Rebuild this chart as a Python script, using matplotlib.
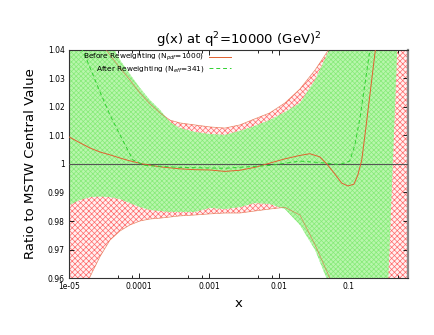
import matplotlib
matplotlib.use("Agg")
import matplotlib.pyplot as plt
from matplotlib.ticker import FixedLocator, FuncFormatter

# error bands on a shared x grid
x_band = [1.0e-5, 1.44e-5, 2.0e-5, 2.77e-5, 3.85e-5, 5.35e-5, 7.4e-5, 1.03e-4, 1.43e-4,
          2.0e-4, 2.77e-4, 3.85e-4, 6.3e-4, 1.03e-3, 1.69e-3, 2.77e-3, 4.5e-3, 7.4e-3,
          1.22e-2, 2.0e-2, 3.3e-2, 5.35e-2, 8.8e-2, 0.144, 0.235, 0.385, 0.7]
before_up = [1.065, 1.055, 1.048, 1.043, 1.0382, 1.0337, 1.0295, 1.0249, 1.0211,
             1.0179, 1.0154, 1.0144, 1.0137, 1.013, 1.0126, 1.0137, 1.0158, 1.0179,
             1.0214, 1.0263, 1.033, 1.0407, 1.05, 1.06, 1.07, 1.08, 1.09]
before_lo = [0.945, 0.953, 0.9605, 0.9675, 0.9733, 0.9765, 0.9786, 0.98, 0.9807,
             0.981, 0.9814, 0.9818, 0.9821, 0.9825, 0.9828, 0.9828, 0.9835, 0.9842,
             0.9848, 0.9821, 0.9716, 0.96, 0.95, 0.94, 0.93, 0.92, 0.91]

x_after = x_band[:24] + [0.235, 0.36, 0.5]
after_up = [1.07, 1.062, 1.055, 1.049, 1.043, 1.0365, 1.0316, 1.0267, 1.0225,
            1.019, 1.0147, 1.0126, 1.0112, 1.0105, 1.0102, 1.0116, 1.0133, 1.0154,
            1.0182, 1.0214, 1.0295, 1.0405, 1.055, 1.07, 1.08, 1.1, 1.1]
after_lo = [0.9856, 0.9874, 0.9884, 0.9886, 0.9884, 0.9877, 0.9863, 0.9849, 0.9839,
            0.9835, 0.9832, 0.9832, 0.9832, 0.9846, 0.9842, 0.9849, 0.9863, 0.986,
            0.9842, 0.9786, 0.9698, 0.957, 0.945, 0.94, 0.94, 0.955, 1.045]

# central values
x_before_c = [1e-5, 1.44e-5, 2e-5, 2.77e-5, 3.85e-5, 5.35e-5, 7.4e-5, 1.14e-4, 2e-4,
              3.85e-4, 6.3e-4, 1.03e-3, 1.69e-3, 2.77e-3, 4.5e-3, 7.4e-3, 1.22e-2,
              2e-2, 2.77e-2, 3.85e-2, 4.85e-2, 6.3e-2, 7.9e-2, 9.7e-2, 0.118, 0.134,
              0.153, 0.175, 0.2, 0.228, 0.26]
before_c = [1.0095, 1.0074, 1.0056, 1.0042, 1.0032, 1.0021, 1.0011, 1.0, 0.999,
            0.9983, 0.998, 0.9979, 0.9974, 0.9978, 0.9988, 1.0003, 1.0018, 1.003,
            1.0036, 1.0025, 1.0, 0.9965, 0.9933, 0.9923, 0.9929, 0.996, 1.0014,
            1.0126, 1.0242, 1.0358, 1.047]
x_after_c = [1.22e-5, 1.75e-5, 2.77e-5, 3.85e-5, 5.35e-5, 8.2e-5, 1.22e-4, 3.85e-4,
             1.69e-3, 7.4e-3, 0.02, 0.0385, 0.0743, 0.103, 0.122, 0.144, 0.169, 0.2, 0.235]
after_c = [1.045, 1.0372, 1.0253, 1.0172, 1.0102, 1.0014, 0.9995, 0.9988, 0.9985,
           0.9995, 1.001, 1.0005, 0.9998, 1.001, 1.0067, 1.016, 1.0277, 1.04, 1.052]

xticks = [1e-5, 1e-4, 1e-3, 1e-2, 1e-1]
xticklabels = ["1e-05", "0.0001", "0.001", "0.01", "0.1"]
yticks = [0.96, 0.97, 0.98, 0.99, 1.0, 1.01, 1.02, 1.03, 1.04]

plt.rcParams["hatch.linewidth"] = 0.5
fig = plt.figure(figsize=(4.34, 3.35), dpi=100)
ax = fig.add_axes([0.159, 0.170, 0.781, 0.681])

ax.fill_between(x_band, before_lo, before_up, facecolor="#fff0f0", edgecolor="#ff6a6a",
                hatch="xxxxxx", linewidth=0, zorder=1)
ax.fill_between(x_after, after_lo, after_up, facecolor="#b8f6ac", edgecolor="#86ea78",
                hatch="xxxxxxx", linewidth=0, zorder=2)
ax.plot(x_band, before_up, color="#e06a40", lw=0.5, alpha=0.75, zorder=3)
ax.plot(x_band, before_lo, color="#e06a40", lw=0.5, alpha=0.75, zorder=3)
ax.axhline(1.0, color="#555555", lw=0.8, zorder=4)
ax.plot(x_before_c, before_c, color="#e0602e", lw=0.7, zorder=5,
        label="Before Reweighting (N$_{pdf}$=1000)")
ax.plot(x_after_c, after_c, color="#30d030", lw=0.7, ls=(0, (4, 3)), zorder=5,
        label="After Reweighting (N$_{eff}$=341)")

ax.set_xscale("log")
ax.set_xlim(1e-5, 0.7)
ax.set_ylim(0.96, 1.04)
ax.xaxis.set_major_locator(FixedLocator(xticks))
ax.xaxis.set_minor_locator(FixedLocator([m * 10.0 ** e for e in range(-5, 0) for m in (5, 8)]))
ax.set_xticklabels(xticklabels)
ax.set_yticks(yticks)
ax.yaxis.set_major_formatter(FuncFormatter(lambda v, p: "%g" % round(v, 2)))
ax.tick_params(which="both", direction="in", top=True, right=True, labelsize=5.5, pad=3)
ax.tick_params(which="major", length=3.5, width=0.6)
ax.tick_params(which="minor", length=2, width=0.6)
for s in ["left", "bottom", "top"]:
    ax.spines[s].set_color("#333333")
    ax.spines[s].set_linewidth(0.8)
ax.spines["right"].set_color("#888888")
ax.spines["right"].set_linewidth(1.6)

ax.set_title("g(x) at q$^2$=10000 (GeV)$^2$", fontsize=9.5, pad=4)
ax.set_xlabel("x", fontsize=9.5, labelpad=4)
ax.set_ylabel("Ratio to MSTW Central Value", fontsize=9.5, labelpad=8)
ax.legend(loc="upper right", bbox_to_anchor=(0.49, 1.01), frameon=False, fontsize=5.3,
          markerfirst=False, handlelength=3.0, handletextpad=0.6, labelspacing=0.05,
          borderaxespad=0.2)

fig.savefig("out.png", dpi=100)
